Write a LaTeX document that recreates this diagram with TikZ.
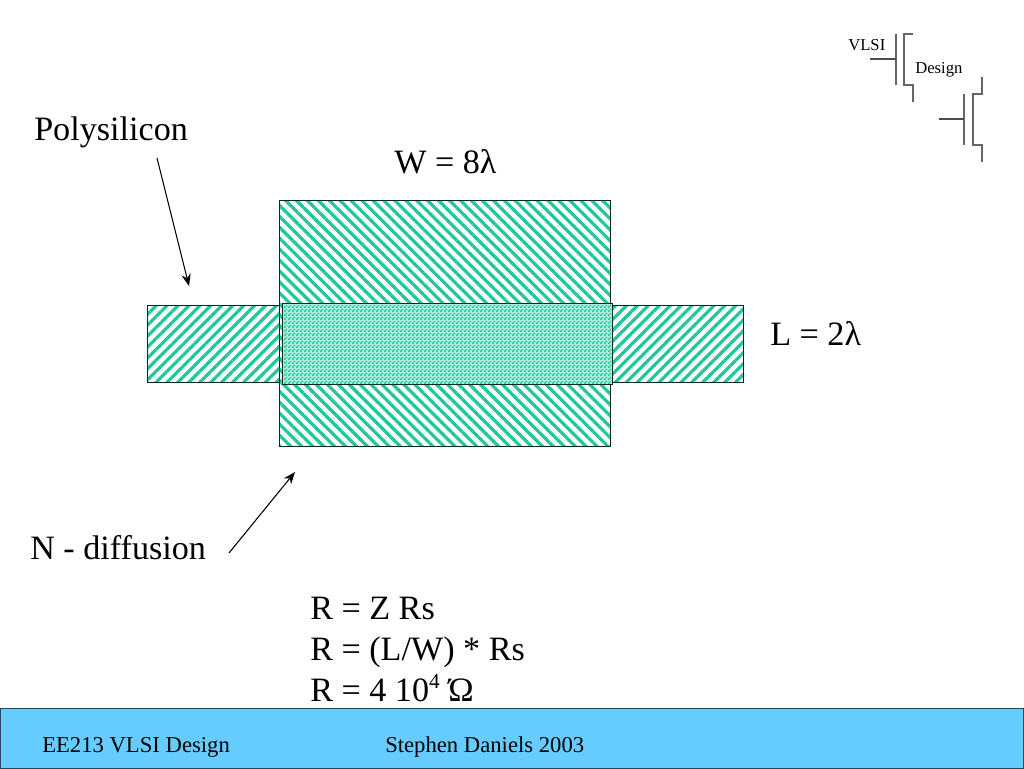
\documentclass[tikz,border=0pt]{standalone}
\usepackage{xcolor}
\usepackage{fontspec}
\setmainfont{Liberation Serif}
\usetikzlibrary{arrows.meta, patterns.meta}

\definecolor{hatchgreen}{HTML}{1FC79A}
\definecolor{footerblue}{HTML}{66CCFF}
\definecolor{logogray}{HTML}{666666}

\pgfdeclarepatternformonly{finechecks}{\pgfqpoint{0pt}{0pt}}{\pgfqpoint{3pt}{3pt}}{\pgfqpoint{3pt}{3pt}}{
    \pgfpathrectangle{\pgfqpoint{0pt}{0pt}}{\pgfqpoint{1.5pt}{1.5pt}}
    \pgfpathrectangle{\pgfqpoint{1.5pt}{1.5pt}}{\pgfqpoint{1.5pt}{1.5pt}}
    \pgfusepath{fill}
}

\begin{document}
\begin{tikzpicture}[
        x=0.75pt, y=-0.75pt,
        label/.style={anchor=base west, inner sep=0pt, font=\fontsize{25.6}{30}\selectfont},
        small/.style={anchor=base west, inner sep=0pt, font=\fontsize{17}{20}\selectfont},
        logotext/.style={anchor=base west, inner sep=0pt, font=\fontsize{12.5}{14}\selectfont},
        layer/.style={rectangle, draw=black!80!hatchgreen, line width=0.7pt, inner sep=0pt},
        arrow/.style={line width=0.8pt, -{Stealth[length=9pt, width=7pt]}},
        logoline/.style={logogray, line width=1pt}
    ]
        \useasboundingbox (0,0) rectangle (1024,768);

        % Layers
        \node[layer, minimum width=447pt, minimum height=57.75pt, preaction={fill=white}, pattern={Lines[angle=45, distance=5.8pt, line width=2.4pt]}, pattern color=hatchgreen] (poly) at (445.75,343.5) {};
        \node[layer, minimum width=248.25pt, minimum height=184.5pt, preaction={fill=white}, pattern={Lines[angle=-45, distance=5.8pt, line width=2.4pt]}, pattern color=hatchgreen] (diff) at (445,323) {};
        \node[layer, minimum width=247.5pt, minimum height=60.75pt, preaction={fill=hatchgreen!35}, pattern=finechecks, pattern color=hatchgreen] (gate) at (447,343.5) {};

        % Labels
        \node[label] (polyLabel) at (34,140) {Polysilicon};
        \node[label] (diffLabel) at (30,559) {N - diffusion};
        \node[label] (widthLabel) at (394,173) {W = 8λ};
        \node[label] (lengthLabel) at (770,345) {L = 2λ};

        % Arrows
        \coordinate (polyStart) at (157,158);
        \coordinate (polyEnd) at (189,286);
        \coordinate (diffStart) at (229,553);
        \coordinate (diffEnd) at (295,472);
        \draw[arrow] (polyStart) -- (polyEnd);
        \draw[arrow] (diffStart) -- (diffEnd);

        % Equations
        \node[label] (eqZ) at (310,619) {R = Z Rs};
        \node[label] (eqLW) at (310,660) {R = (L/W) * Rs};
        \node[label] (eqOhm) at (310,701) {R = 4 10\raisebox{0.36em}{\fontsize{16}{19}\selectfont 4} Ώ};

        % Footer
        \node[rectangle, draw=black!65!footerblue, fill=footerblue, line width=0.7pt, minimum width=767.5pt, minimum height=45pt, inner sep=0pt] (footer) at (512,738) {};
        \node[small] (footerLeft) at (42,752) {EE213 VLSI Design};
        \node[small] (footerRight) at (385,752) {Stephen Daniels 2003};

        % Logo
        \node[logotext] (logoVlsi) at (848,50) {VLSI};
        \node[logotext] (logoDesign) at (915,73) {Design};
        \draw[logoline] (896,34) -- (896,85);
        \draw[logoline, black!70] (870,59) -- (896,59);
        \draw[logoline] (913,34) -- (904,34) -- (904,85) -- (913,85) -- (913,102);
        \draw[logoline] (964,94) -- (964,145);
        \draw[logoline, black!70] (939,119) -- (964,119);
        \draw[logoline] (982,77) -- (982,94) -- (973,94) -- (973,145) -- (982,145) -- (982,162);
    \end{tikzpicture}
\end{document}
